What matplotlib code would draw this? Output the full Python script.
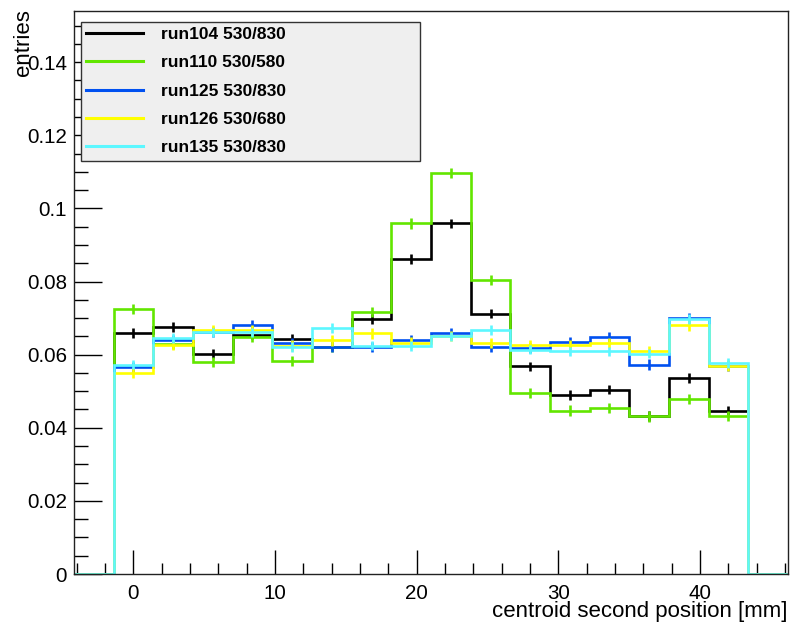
import numpy as np
import matplotlib
matplotlib.use("Agg")
import matplotlib.pyplot as plt
from matplotlib.ticker import MultipleLocator
from matplotlib.lines import Line2D

# Histogram binning: 18 bins of 2.8 mm from -4.2 to 46.2 mm
x_low = -4.2
x_high = 46.2
n_bins = 18

labels = ["run104 530/830", "run110 530/580", "run125 530/830",
          "run126 530/680", "run135 530/830"]
colors = ["#000000", "#62e600", "#0050f0", "#ffff00", "#5cf7ff"]

run104 = [0, 0.0659, 0.0675, 0.0603, 0.0655, 0.0643, 0.0622, 0.0698, 0.0862,
          0.0959, 0.0712, 0.0568, 0.0490, 0.0504, 0.0432, 0.0536, 0.0447, 0]
run110 = [0, 0.0725, 0.0630, 0.0579, 0.0648, 0.0582, 0.0620, 0.0716, 0.0959,
          0.1096, 0.0804, 0.0495, 0.0447, 0.0454, 0.0431, 0.0479, 0.0433, 0]
run125 = [0, 0.0565, 0.0641, 0.0661, 0.0682, 0.0632, 0.0621, 0.0621, 0.0640,
          0.0658, 0.0620, 0.0618, 0.0634, 0.0648, 0.0573, 0.0700, 0.0568, 0]
run126 = [0, 0.0550, 0.0627, 0.0668, 0.0668, 0.0625, 0.0639, 0.0658, 0.0633,
          0.0652, 0.0632, 0.0627, 0.0627, 0.0632, 0.0609, 0.0680, 0.0570, 0]
run135 = [0, 0.0573, 0.0646, 0.0661, 0.0661, 0.0621, 0.0673, 0.0625, 0.0624,
          0.0650, 0.0667, 0.0614, 0.0609, 0.0609, 0.0603, 0.0698, 0.0577, 0]
series = [run104, run110, run125, run126, run135]

# statistical uncertainty on each bin, per run
bin_errors = [0.0013, 0.0014, 0.0014, 0.0014, 0.0013]

plt.rcParams["font.family"] = ["Liberation Sans", "DejaVu Sans"]

fig = plt.figure(figsize=(8.04, 6.28), dpi=100)
ax = fig.add_axes([74 / 804, 1 - 574 / 628, (788 - 74) / 804, (574 - 11) / 628])

edges = np.linspace(x_low, x_high, n_bins + 1)
centers = 0.5 * (edges[:-1] + edges[1:])

for vals, col, err in zip(series, colors, bin_errors):
    v = np.asarray(vals)
    ax.stairs(v, edges, color=col, linewidth=1.9, baseline=None, zorder=2)
    mask = v > 0
    ax.vlines(centers[mask], v[mask] - err, v[mask] + err, color=col,
              linewidth=1.9, zorder=2)

ax.set_xlim(x_low, x_high)
ax.set_ylim(0, 0.154)

ax.xaxis.set_major_locator(MultipleLocator(10))
ax.xaxis.set_minor_locator(MultipleLocator(2))
ax.yaxis.set_major_locator(MultipleLocator(0.02))
ax.yaxis.set_minor_locator(MultipleLocator(0.005))
ax.tick_params(axis="both", which="both", direction="in", top=False,
               right=False, width=1.0, color="black")
ax.tick_params(axis="x", which="major", length=17, pad=7, labelsize=14.8)
ax.tick_params(axis="x", which="minor", length=8)
ax.tick_params(axis="y", which="major", length=20, pad=5, labelsize=14.8)
ax.tick_params(axis="y", which="minor", length=10)
ax.yaxis.set_major_formatter(plt.FuncFormatter(
    lambda v, p: "0" if abs(v) < 1e-12 else f"{v:g}"))

for s in ax.spines.values():
    s.set_linewidth(1.0)
    s.set_color("#222222")

ax.set_xlabel("centroid second position [mm]", fontsize=16, loc="right",
              labelpad=-1)
ax.set_ylabel("entries", fontsize=16, loc="top", labelpad=0)
ax.yaxis.set_label_coords(-0.056, 1.003)

# legend box in axes fractions: left, bottom, width, height
leg_w = 339 / 714
leg_h = 140 / 563
leg_x = 6.7 / 714
leg_y = 1 - (10.7 + 140) / 563

handles = [Line2D([0], [0], color=c, linewidth=2.2) for c in colors]
leg = ax.legend(handles, labels, loc="upper left",
                bbox_to_anchor=(leg_x, leg_y, leg_w, leg_h),
                mode="expand", fancybox=False, framealpha=1,
                facecolor="#efefef", edgecolor="#333333",
                prop={"weight": "bold", "size": 12.5}, handlelength=3.3,
                handletextpad=1.0, labelspacing=0.76, borderpad=0.3,
                borderaxespad=0)
leg.get_frame().set_linewidth(1.0)
leg.set_zorder(5)

fig.savefig("out.png", dpi=100)
